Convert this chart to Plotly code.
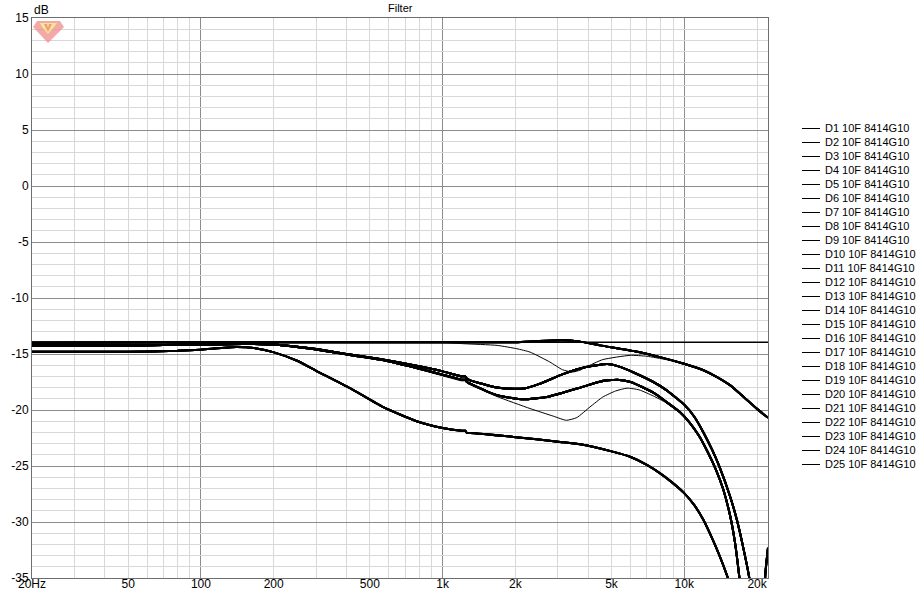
import math
import plotly.graph_objects as go

# ---------------- data ----------------
freq_A = [20, 22200]
db_A = [-13.95, -13.95]

freq_B = [20, 100, 1000, 2000, 2500, 3100, 3600, 4490, 6170, 8000, 9970, 12000, 13660, 15500, 17610, 20000, 22200]
db_B = [-14.0, -13.95, -13.95, -13.95, -13.85, -13.78, -13.85, -14.23, -14.74, -15.3, -15.87, -16.45, -17.06, -17.8, -18.84, -19.9, -20.7]

freq_C = [20, 1000, 1220, 1680, 2030, 2300, 2780, 3130, 3450, 3700, 3920, 4600, 5975, 7000, 8400, 9970, 12000, 13660, 15500, 17610, 20000, 22200]
db_C = [-13.95, -13.97, -14.08, -14.23, -14.53, -14.83, -15.72, -16.4, -16.61, -16.45, -16.17, -15.5, -15.12, -15.2, -15.5, -15.87, -16.45, -17.06, -17.8, -18.84, -19.9, -20.7]

freq_D = [20, 50, 100, 150, 200, 300, 414, 550, 780, 1000, 1200, 1240, 1260, 1300, 1680, 1964, 2200, 2530, 3130, 3920, 4800, 5420, 6170, 7450, 8400, 9970, 11000, 12000, 13000, 14000, 15460, 16500, 17500, 18640, 19500, 20300, 21000, 21650, 22200]
db_D = [-14.25, -14.25, -14.15, -14.1, -14.15, -14.55, -15.05, -15.45, -16.05, -16.55, -17.0, -17.0, -17.2, -17.35, -18.0, -18.1, -18.05, -17.65, -16.82, -16.17, -15.9, -16.15, -16.65, -17.5, -18.2, -19.5, -20.6, -22.0, -23.5, -25.1, -27.7, -29.8, -32.2, -35.2, -40.0, -50.0, -42.0, -34.6, -32.3]

freq_E = [20, 50, 100, 150, 200, 300, 414, 550, 780, 1000, 1200, 1240, 1260, 1300, 1680, 2160, 2700, 3710, 4490, 5270, 6000, 7450, 8400, 9610, 10500, 11500, 12500, 13500, 14500, 15460, 16200, 16830, 17300]
db_E = [-14.25, -14.25, -14.15, -14.1, -14.15, -14.6, -15.1, -15.5, -16.25, -16.85, -17.3, -17.3, -17.5, -17.65, -18.69, -19.05, -18.84, -18.0, -17.45, -17.3, -17.5, -18.45, -19.25, -20.2, -21.1, -22.3, -23.75, -25.3, -27.1, -29.4, -31.8, -34.6, -37.0]

freq_F = [20, 50, 100, 150, 200, 300, 414, 550, 780, 1000, 1200, 1240, 1260, 1300, 1680, 2300, 2880, 3250, 3590, 4070, 4600, 5200, 5800, 6500, 7450, 8400, 9610, 10500, 11500, 12500, 13500, 14500, 15460, 16200, 16830, 17300]
db_F = [-14.25, -14.25, -14.15, -14.1, -14.15, -14.6, -15.1, -15.5, -16.3, -16.95, -17.4, -17.4, -17.6, -17.75, -18.8, -19.87, -20.56, -20.92, -20.68, -19.73, -18.84, -18.3, -18.05, -18.2, -18.75, -19.35, -20.25, -21.1, -22.3, -23.75, -25.3, -27.1, -29.4, -31.8, -34.6, -37.0]

freq_G = [20, 50, 80, 100, 140, 170, 199, 250, 300, 414, 568, 780, 1000, 1200, 1240, 1260, 1300, 1964, 3066, 3710, 5096, 6000, 7000, 8000, 9000, 9970, 11000, 11990, 13000, 14040, 15270, 16000]
db_G = [-14.8, -14.8, -14.72, -14.62, -14.38, -14.5, -14.83, -15.6, -16.5, -18.05, -19.75, -21.0, -21.6, -21.85, -21.85, -22.05, -22.05, -22.4, -22.85, -23.06, -23.74, -24.2, -24.9, -25.7, -26.55, -27.4, -28.5, -29.8, -31.4, -33.1, -35.2, -36.5]

curves = {
    "A": (freq_A, db_A), "B": (freq_B, db_B), "C": (freq_C, db_C),
    "D": (freq_D, db_D), "E": (freq_E, db_E), "F": (freq_F, db_F),
    "G": (freq_G, db_G),
}

trace_names = [f"D{i} 10F 8414G10" for i in range(1, 26)]
trace_curve = ["G", "D", "E", "B", "A", "D", "E", "G", "B", "D",
               "E", "G", "B", "C", "D", "E", "F", "G", "B", "D",
               "E", "G", "B", "D", "E"]

y_ticks = [15, 10, 5, 0, -5, -10, -15, -20, -25, -30, -35]
y_ticktext = ["15", "10", "5", "0", "-5", "-10", "-15", "-20", "-25", "-30", "-35"]
x_tickvals = [20, 50, 100, 200, 500, 1000, 2000, 5000, 10000, 20000]
x_ticktext = ["20Hz", "50", "100", "200", "500", "1k", "2k", "5k", "10k", "20k"]
decades = [100, 1000, 10000]

# ---------------- styling / layout ----------------
W, H = 924, 593
L, R, T, B = 32, 768, 18, 578          # plot area in pixels
XMIN, XMAX = math.log10(20), math.log10(22200)
width_of = {"A": 1.4, "B": 2.0, "C": 1.0, "D": 2.0, "E": 2.0, "F": 1.0, "G": 2.0}
FONT = "Liberation Sans, Arial, sans-serif"


def px(x):
    return (x - L) / (R - L)


def py(y):
    return (B - y) / (B - T)


def fx_crisp(f):
    frac = (math.log10(f) - XMIN) / (XMAX - XMIN)
    pix = math.floor(L + frac * (R - L)) + 0.5
    return px(pix)


fig = go.Figure()
for name, key in zip(trace_names, trace_curve):
    f, v = curves[key]
    fig.add_trace(go.Scatter(
        x=f, y=v, name=name, mode="lines",
        line=dict(color="black", width=width_of[key], shape="spline", smoothing=0.5),
        showlegend=False, hoverinfo="name+x+y",
    ))

minor_x = []
for dec in [10, 100, 1000, 10000]:
    for m in range(2, 10):
        v = dec * m
        if 20 <= v <= 22200:
            minor_x.append(v)

shapes = []
for d in decades:
    xd = fx_crisp(d)
    shapes.append(dict(type="line", xref="paper", yref="paper", x0=xd, x1=xd,
                       y0=0, y1=1, line=dict(color="#8c8c8c", width=1), layer="between"))

annotations = []
for i, name in enumerate(trace_names):
    yy = 128 + 14 * i
    shapes.append(dict(type="line", xref="paper", yref="paper",
                       x0=px(802), x1=px(820), y0=py(yy + 0.5), y1=py(yy + 0.5),
                       line=dict(color="black", width=1)))
    annotations.append(dict(text=name, xref="paper", yref="paper", x=px(823), y=py(yy),
                            xanchor="left", yanchor="middle", showarrow=False,
                            font=dict(family=FONT, size=11, color="#000")))

annotations.append(dict(text="Filter", xref="paper", yref="paper", x=0.5, y=py(8),
                        xanchor="center", yanchor="middle", showarrow=False,
                        font=dict(family=FONT, size=11, color="#000")))
annotations.append(dict(text="dB", xref="paper", yref="paper", x=px(32), y=py(10),
                        xanchor="left", yanchor="middle", showarrow=False,
                        font=dict(family=FONT, size=12, color="#000")))

# small logo
logo_outer = [(37, 21), (60, 21), (64, 27), (48, 43), (33, 27)]
logo_inner = [(40, 23), (57, 23), (54, 27), (48, 34), (42, 27)]
logo_v = [(44, 24), (47, 24), (48, 28), (49, 24), (52, 24), (48, 32)]


def path(pts):
    return "M " + " L ".join(f"{px(a):.5f},{py(b):.5f}" for a, b in pts) + " Z"


shapes.append(dict(type="path", xref="paper", yref="paper", path=path(logo_outer),
                   fillcolor="rgba(240,140,140,0.75)", line=dict(width=0)))
shapes.append(dict(type="path", xref="paper", yref="paper", path=path(logo_inner),
                   fillcolor="rgba(250,235,140,0.9)", line=dict(width=0)))
shapes.append(dict(type="path", xref="paper", yref="paper", path=path(logo_v),
                   fillcolor="rgba(240,140,140,0.85)", line=dict(width=0)))

fig.update_layout(
    width=W, height=H,
    margin=dict(l=L, r=W - R, t=T, b=H - B, pad=0, autoexpand=False),
    paper_bgcolor="white", plot_bgcolor="white",
    showlegend=False,
    font=dict(family=FONT, size=12, color="#000"),
    shapes=shapes, annotations=annotations,
    xaxis=dict(
        type="log", range=[XMIN, XMAX], automargin=False,
        tickmode="array", tickvals=x_tickvals, ticktext=x_ticktext,
        showgrid=False, zeroline=False,
        showline=True, mirror=True, linecolor="#6e6e6e", linewidth=1,
        ticks="", ticklabelstandoff=-5,
        tickfont=dict(family=FONT, size=12, color="#000"),
        minor=dict(tickmode="array", tickvals=minor_x, showgrid=True,
                   gridcolor="#d8d8d8", gridwidth=1, ticks=""),
    ),
    yaxis=dict(
        range=[-35, 15], tickmode="array", tickvals=y_ticks, ticktext=y_ticktext,
        automargin=False,
        showgrid=True, gridcolor="#8c8c8c", gridwidth=1, zeroline=False,
        showline=True, mirror=True, linecolor="#6e6e6e", linewidth=1,
        ticks="", tickfont=dict(family=FONT, size=12, color="#000"),
        minor=dict(dtick=1, showgrid=True, gridcolor="#d8d8d8", gridwidth=1, ticks=""),
    ),
)

fig.write_html("out.html", config={"displayModeBar": False},
               post_script="document.body.style.margin='0px';")
